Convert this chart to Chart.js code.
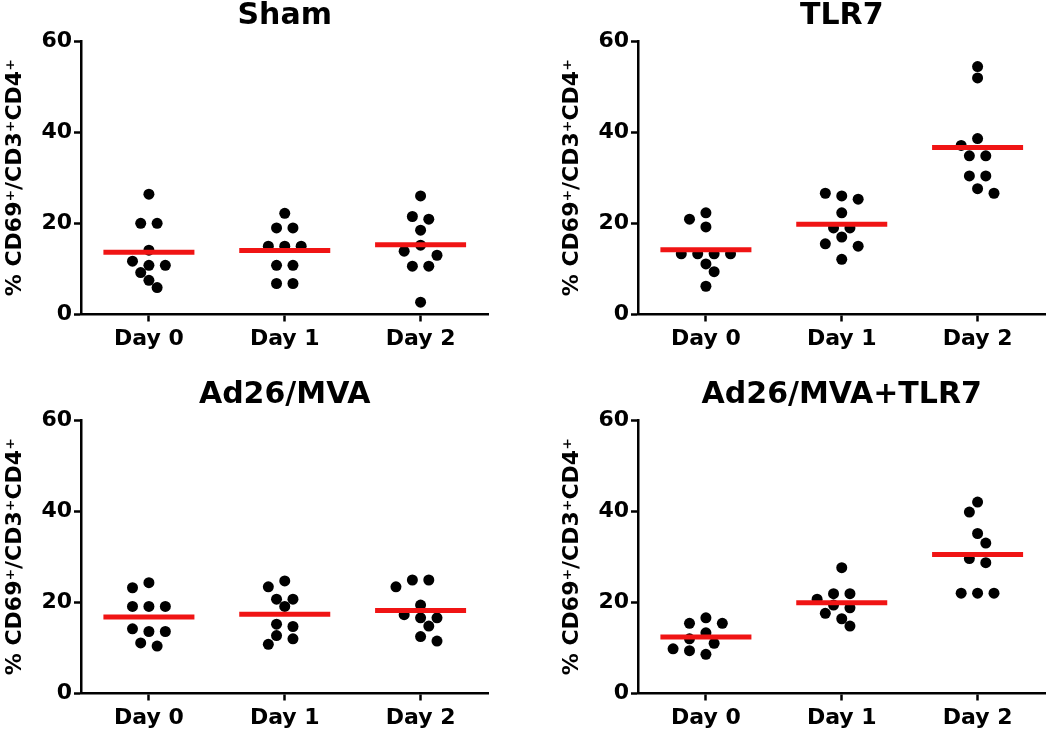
<!DOCTYPE html>
<html><head><meta charset="utf-8">
<script src="https://cdn.jsdelivr.net/npm/chart.js@4"></script>
<style>
html,body{margin:0;padding:0;background:#fff;overflow:hidden;width:1050px;height:735px;}
canvas{position:absolute;}
</style></head><body>
<canvas id="c0" width="494" height="360" style="left:0px;top:0px"></canvas>
<canvas id="c1" width="494" height="360" style="left:557px;top:0px"></canvas>
<canvas id="c2" width="494" height="360" style="left:0px;top:379px"></canvas>
<canvas id="c3" width="494" height="360" style="left:557px;top:379px"></canvas>
<script>
// ---- data ----
const categories = ['Day 0', 'Day 1', 'Day 2'];
const panelTitles = ['Sham', 'TLR7', 'Ad26/MVA', 'Ad26/MVA+TLR7'];
const yTicks = [0, 20, 40, 60];
const yTitle = '% CD69\u207A/CD3\u207ACD4\u207A';

const sham_day0 = [26.4, 20.0, 20.0, 14.1, 11.7, 10.8, 10.8, 9.2, 7.5, 5.9];
const sham_day1 = [22.2, 19.0, 19.0, 15.0, 15.0, 15.0, 10.8, 10.8, 6.8, 6.8];
const sham_day2 = [26.0, 21.5, 20.9, 18.5, 15.2, 13.9, 13.0, 10.6, 10.6, 2.7];

const tlr7_day0 = [22.3, 20.9, 19.2, 13.3, 13.3, 13.3, 13.3, 11.1, 9.4, 6.2];
const tlr7_day1 = [26.6, 26.0, 25.3, 22.3, 19.0, 19.0, 17.0, 15.5, 15.0, 12.1];
const tlr7_day2 = [54.4, 51.9, 38.6, 37.1, 34.8, 34.8, 30.4, 30.4, 27.6, 26.6];

const ad_day0 = [24.3, 23.2, 19.1, 19.1, 19.1, 14.2, 13.6, 13.6, 11.1, 10.4];
const ad_day1 = [24.7, 23.4, 20.7, 20.7, 19.1, 15.2, 14.7, 12.7, 12.0, 10.8];
const ad_day2 = [24.9, 24.9, 23.4, 19.4, 17.3, 16.6, 16.6, 14.8, 12.5, 11.5];

const adtlr_day0 = [16.6, 15.4, 15.4, 13.3, 12.0, 11.0, 9.8, 9.4, 8.6];
const adtlr_day1 = [27.6, 21.9, 21.9, 20.7, 19.4, 18.8, 17.6, 16.4, 14.8];
const adtlr_day2 = [42.0, 39.8, 35.1, 33.0, 29.6, 28.7, 22.0, 22.0, 22.0];

const panelGroups = [
  [sham_day0, sham_day1, sham_day2],
  [tlr7_day0, tlr7_day1, tlr7_day2],
  [ad_day0, ad_day1, ad_day2],
  [adtlr_day0, adtlr_day1, adtlr_day2]
];

// ---- layout / style ----
const FONT = '"DejaVu Sans", "Liberation Sans", Arial, sans-serif';
const RED = '#f01414';
const AREA_W = 412, AREA_H = 273.5;
const PX_PER_X = AREA_W / 3, PX_PER_Y = AREA_H / 60;
const HALF_PX = 8.3;
const HALF_SLOT = HALF_PX / PX_PER_X;
const DOT_D = 11;
const MEAN_HALF = 0.335;

// beeswarm placement (computed, deterministic)
function collides(placed, v, k) {
  return placed.some(q => {
    const dx = (q.k - k) * HALF_PX, dy = (q.v - v) * PX_PER_Y;
    return dx * dx + dy * dy < DOT_D * DOT_D;
  });
}
function swarm(values, center) {
  const sorted = values.map(v => ({v})).sort((a, b) => b.v - a.v);
  const rows = [];
  sorted.forEach(p => {
    const r = rows[rows.length - 1];
    if (r && r[r.length - 1].v - p.v < 1.0) r.push(p); else rows.push([p]);
  });
  const placed = [];
  let sumK = 0;
  rows.forEach(row => {
    const n = row.length;
    const patterns = [row.map((p, i) => 2 * i - (n - 1))];
    if (n % 2 === 0) patterns.push(row.map((p, i) => { const b = 2 * i - (n - 1); return b + Math.sign(b); }));
    let best = null, bestScore = Infinity;
    for (const pat of patterns) {
      for (let s = -12; s <= 12; s++) {
        const ks = pat.map(b => b + s);
        if (row.some((p, i) => collides(placed, p.v, ks[i]))) continue;
        const score = Math.max(...ks.map(Math.abs)) * 100 + Math.abs(sumK + ks.reduce((a, b) => a + b, 0));
        if (score < bestScore) { bestScore = score; best = ks; }
      }
    }
    row.forEach((p, i) => { p.k = best[i]; sumK += best[i]; placed.push(p); });
  });
  return placed.map(p => ({x: center + p.k * HALF_SLOT, y: p.v}));
}

const mean = a => a.reduce((s, v) => s + v, 0) / a.length;

const titlePlugin = {
  id: 'panelTitle',
  afterDraw(chart, args, opts) {
    const {ctx, chartArea} = chart;
    ctx.save();
    ctx.font = 'bold 30px ' + FONT;
    ctx.fillStyle = '#000';
    ctx.textAlign = 'center';
    ctx.textBaseline = 'middle';
    ctx.fillText(opts.text, (chartArea.left + chartArea.right) / 2, chartArea.top - 25);
    ctx.restore();
  }
};

panelGroups.forEach((groups, pi) => {
  const datasets = [];
  groups.forEach((vals, gi) => {
    const m = mean(vals);
    datasets.push({
      data: [{x: gi - MEAN_HALF, y: m}, {x: gi + MEAN_HALF, y: m}],
      showLine: true, borderColor: RED, borderWidth: 5, pointRadius: 0,
      borderCapStyle: 'butt', order: 0
    });
  });
  groups.forEach((vals, gi) => {
    datasets.push({
      data: swarm(vals, gi),
      showLine: false, pointRadius: 5.5, pointBackgroundColor: '#000',
      pointBorderWidth: 0, pointBorderColor: '#000', order: 1
    });
  });

  new Chart(document.getElementById('c' + pi), {
    type: 'scatter',
    data: {datasets},
    options: {
      responsive: false, animation: false, events: [],
      layout: {padding: {top: 41, left: 0, right: 1, bottom: 5.5}},
      plugins: {legend: {display: false}, tooltip: {enabled: false},
        panelTitle: {text: panelTitles[pi]}},
      scales: {
        x: {
          type: 'linear', min: -0.5, max: 2.5,
          afterBuildTicks: s => { s.ticks = categories.map((c, i) => ({value: i})); },
          afterFit: s => { s.height = 40; },
          ticks: {callback: v => categories[v], color: '#000', padding: 5,
            font: {family: FONT, size: 22, weight: 'bold'}, maxRotation: 0, autoSkip: false},
          grid: {drawOnChartArea: false, drawTicks: true, tickLength: 7, tickWidth: 2.5, color: '#000'},
          border: {display: true, color: '#000', width: 2.5}
        },
        y: {
          type: 'linear', min: 0, max: 60,
          afterBuildTicks: s => { s.ticks = yTicks.map(v => ({value: v})); },
          afterFit: s => { s.width = 81; },
          ticks: {color: '#000', padding: 2, font: {family: FONT, size: 22, weight: 'bold'}},
          grid: {drawOnChartArea: false, drawTicks: true, tickLength: 7, tickWidth: 2.5, color: '#000'},
          border: {display: true, color: '#000', width: 2.5},
          title: {display: true, text: yTitle, color: '#000',
            font: {family: FONT, size: 22, weight: 'bold'}, padding: {top: 2, bottom: 0}}
        }
      }
    },
    plugins: [titlePlugin]
  });
});
</script>
</body></html>
